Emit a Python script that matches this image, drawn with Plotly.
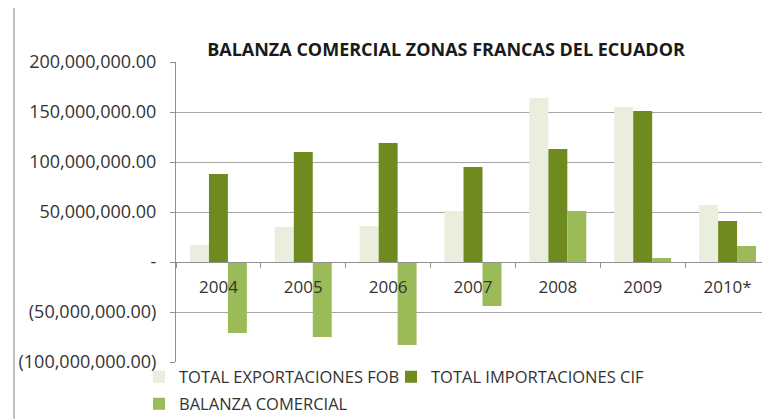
import plotly.graph_objects as go

years = ["2004", "2005", "2006", "2007", "2008", "2009", "2010*"]
exportaciones = [17e6, 35e6, 36e6, 51e6, 164e6, 155e6, 57e6]
importaciones = [88e6, 110e6, 119e6, 95e6, 113e6, 151e6, 41e6]
balanza = [-71e6, -75e6, -83e6, -44e6, 51e6, 4e6, 16e6]

y_tickvals = [-100e6, -50e6, 0, 50e6, 100e6, 150e6, 200e6]
y_ticktext = ["(100,000,000.00)", "(50,000,000.00)", "-", "50,000,000.00",
              "100,000,000.00", "150,000,000.00", "200,000,000.00"]

names = ["TOTAL EXPORTACIONES FOB", "TOTAL IMPORTACIONES CIF", "BALANZA COMERCIAL"]
colors = ["#EAEEDC", "#6F8B1F", "#9BBB59"]
legends = ["legend", "legend2", "legend3"]

FONT = "Open Sans"
TXT = "#333333"

# figure coordinates (page body adds an 8px offset)
PL, PR, PT, PB = 168, 762, 54, 354
PW, PH = PR - PL, PB - PT

def px(xf):
    return (xf - PL) / PW

def py(yf):
    return (PB - yf) / PH

fig = go.Figure()
for name, vals, col, lg in zip(names, [exportaciones, importaciones, balanza], colors, legends):
    fig.add_trace(go.Bar(x=years, y=vals, name=name, legend=lg,
                         marker=dict(color=col, line=dict(width=0))))

legend_common = dict(orientation="h", xanchor="left", yanchor="middle",
                     font=dict(family=FONT, size=16.5, color=TXT),
                     itemwidth=30, bgcolor="rgba(0,0,0,0)")

fig.update_layout(
    width=770, height=419,
    margin=dict(l=PL, r=770 - PR, t=PT, b=419 - PB, autoexpand=False),
    paper_bgcolor="white", plot_bgcolor="white",
    barmode="group", bargap=0.33, bargroupgap=0,
    font=dict(family=FONT, size=17, color=TXT),
    title=dict(text="<b>BALANZA COMERCIAL ZONAS FRANCAS DEL ECUADOR</b>",
               x=438/770, xref="container", xanchor="center",
               y=1-42/419, yref="container", yanchor="middle",
               font=dict(family=FONT, size=18, color="#1A1A1A")),
    showlegend=True,
    legend3=dict(x=px(131), y=py(396), **legend_common),
    legend2=dict(x=px(383), y=py(369), **legend_common),
    legend=dict(x=px(131), y=py(369), **legend_common),
    xaxis=dict(type="category", anchor="free", position=1/3,
               showline=True, linecolor="#909090", linewidth=1,
               ticks="outside", ticklen=5, tickcolor="#909090", tickson="boundaries",
               showgrid=False, ticklabelstandoff=10,
               tickfont=dict(family=FONT, size=17, color=TXT)),
    yaxis=dict(range=[-100e6, 200e6], tickvals=y_tickvals, ticktext=y_ticktext,
               showline=True, linecolor="#909090", linewidth=1,
               ticks="outside", ticklen=5, tickcolor="#909090",
               ticklabelstandoff=10,
               showgrid=True, gridcolor="#A6A6A6", gridwidth=1, zeroline=False,
               tickfont=dict(family=FONT, size=18, color=TXT)),
    shapes=[dict(type="line", xref="paper", yref="paper",
                 x0=px(6), x1=px(6), y0=py(-20), y1=py(440),
                 line=dict(color="#BFBFBF", width=2))],
)

fig.write_html("out.html")
